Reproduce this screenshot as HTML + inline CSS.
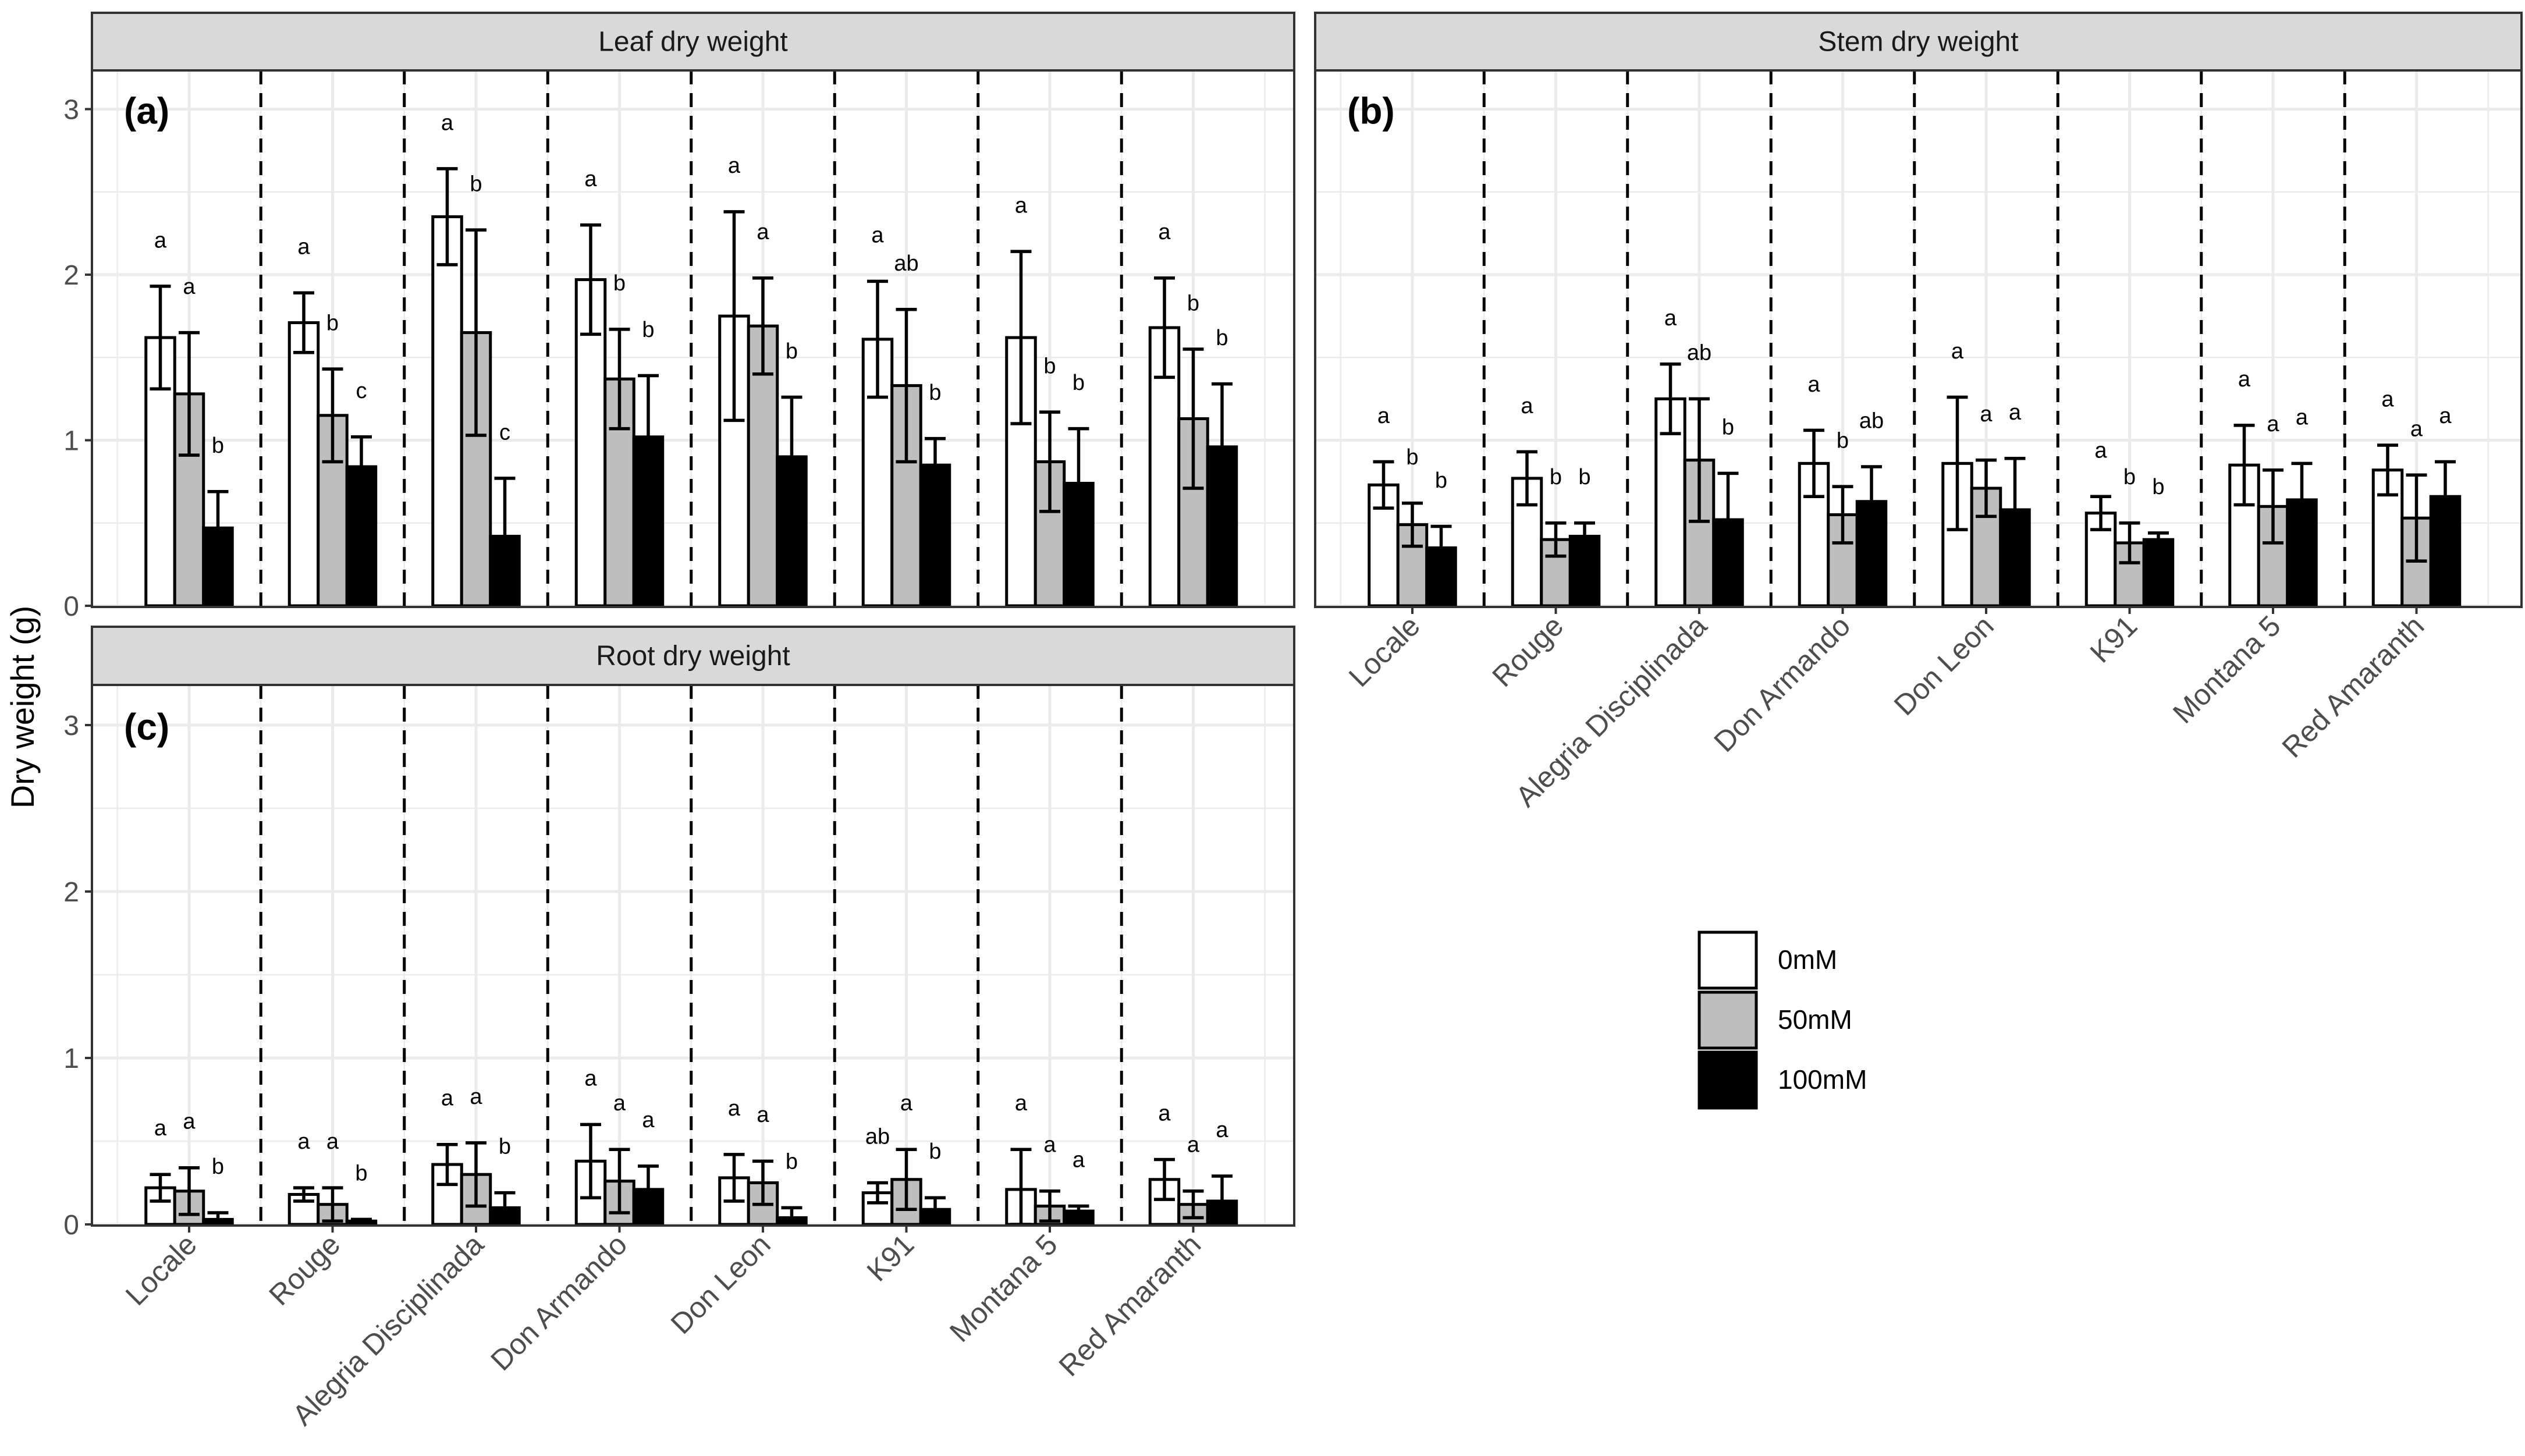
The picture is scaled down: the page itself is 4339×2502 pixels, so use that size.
<!DOCTYPE html>
<html><head><meta charset="utf-8"><style>
html,body{margin:0;padding:0;background:#fff;}
svg{display:block;font-family:"Liberation Sans",Arial,sans-serif;}
</style></head><body>
<svg id="chart" width="4339" height="2502" viewBox="0 0 4339 2502" xmlns="http://www.w3.org/2000/svg">
<text x="0" y="0" transform="translate(58,1215) rotate(-90)" text-anchor="middle" font-size="56" fill="#000">Dry weight (g)</text>
<g>
<rect x="2920" y="1602" width="98" height="96" fill="#fff" stroke="#000" stroke-width="5"/>
<rect x="2920" y="1705" width="98" height="96" fill="#bebebe" stroke="#000" stroke-width="5"/>
<rect x="2920" y="1808" width="98" height="96" fill="#000" stroke="#000" stroke-width="5"/>
<text x="3055" y="1665" font-size="46">0mM</text>
<text x="3055" y="1768" font-size="46">50mM</text>
<text x="3055" y="1871" font-size="46">100mM</text>
</g>
</svg>
<script>
const categories = ["Locale","Rouge","Alegria Disciplinada","Don Armando","Don Leon","K91","Montana 5","Red Amaranth"];
const yTicks = [0,1,2,3];
const leafMean0 = [1.62,1.71,2.35,1.97,1.75,1.61,1.62,1.68];
const leafSe0   = [0.31,0.18,0.29,0.33,0.63,0.35,0.52,0.30];
const leafMean50 = [1.28,1.15,1.65,1.37,1.69,1.33,0.87,1.13];
const leafSe50   = [0.37,0.28,0.62,0.30,0.29,0.46,0.30,0.42];
const leafMean100 = [0.47,0.84,0.42,1.02,0.90,0.85,0.74,0.96];
const leafSe100   = [0.22,0.18,0.35,0.37,0.36,0.16,0.33,0.38];
const leafLetters0 = ["a","a","a","a","a","a","a","a"];
const leafLetters50 = ["a","b","b","b","a","ab","b","b"];
const leafLetters100 = ["b","c","c","b","b","b","b","b"];
const stemMean0 = [0.73,0.77,1.25,0.86,0.86,0.56,0.85,0.82];
const stemSe0   = [0.14,0.16,0.21,0.20,0.40,0.10,0.24,0.15];
const stemMean50 = [0.49,0.40,0.88,0.55,0.71,0.38,0.60,0.53];
const stemSe50   = [0.13,0.10,0.37,0.17,0.17,0.12,0.22,0.26];
const stemMean100 = [0.35,0.42,0.52,0.63,0.58,0.40,0.64,0.66];
const stemSe100   = [0.13,0.08,0.28,0.21,0.31,0.04,0.22,0.21];
const stemLetters0 = ["a","a","a","a","a","a","a","a"];
const stemLetters50 = ["b","b","ab","b","a","b","a","a"];
const stemLetters100 = ["b","b","b","ab","a","b","a","a"];
const rootMean0 = [0.22,0.18,0.36,0.38,0.28,0.19,0.21,0.27];
const rootSe0   = [0.08,0.04,0.12,0.22,0.14,0.06,0.24,0.12];
const rootMean50 = [0.20,0.12,0.30,0.26,0.25,0.27,0.11,0.12];
const rootSe50   = [0.14,0.10,0.19,0.19,0.13,0.18,0.09,0.08];
const rootMean100 = [0.03,0.02,0.10,0.21,0.04,0.09,0.08,0.14];
const rootSe100   = [0.04,0.01,0.09,0.14,0.06,0.07,0.03,0.15];
const rootLetters0 = ["a","a","a","a","a","ab","a","a"];
const rootLetters50 = ["a","a","a","a","a","a","a","a"];
const rootLetters100 = ["b","b","b","a","b","b","a","a"];

const NS = "http://www.w3.org/2000/svg";
const svg = document.getElementById("chart");
function mk(tag, attrs, parent){
  const e = document.createElementNS(NS, tag);
  for (const k in attrs) e.setAttribute(k, attrs[k]);
  (parent||svg).appendChild(e);
  return e;
}
const fills = ["#ffffff","#bebebe","#000000"];
const UNIT = 246.5, BW = 49.5;

function drawPanel(p){
  const g = mk("g", {});
  
  
  const y = v => p.y0 - v * p.unit;
  const x = i => p.left + 167 + UNIT * i;
  const bg = mk("rect", {x:p.left, y:p.top, width:p.right-p.left, height:p.bottom-p.top, fill:"#fff"}, g);
  
  
  for (let v = 0; v <= 3.25; v += 0.5) {
    const gl = mk("line", {x1:p.left, x2:p.right, y1:y(v), y2:y(v), stroke:"#ebebeb", "stroke-width": (v%1===0)?5:2.5}, g);
    
    
  }
  for (let i = -0.5; i < categories.length; i += 0.5) {
    const gl = mk("line", {x1:x(i), x2:x(i), y1:p.top, y2:p.bottom, stroke:"#ebebeb", "stroke-width": (i%1===0)?5:2.5}, g);
    
    
  }
  for (let i = 0; i < categories.length - 1; i++) {
    const dl = mk("line", {x1:x(i+0.5), x2:x(i+0.5), y1:p.top, y2:p.bottom, stroke:"#000", "stroke-width":5, "stroke-dasharray":"24 15"}, g);
    
    
  }
  for (let s = 0; s < 3; s++) {
    const means = p.means[s], ses = p.ses[s], lets = p.letters[s];
    for (let i = 0; i < categories.length; i++) {
      const cx = x(i) + (s - 1) * BW;
      const r = mk("rect", {x:cx - BW/2, y:y(means[i]), width:BW, height:y(0)-y(means[i]), fill:fills[s], stroke:"#000", "stroke-width":5}, g);
      
      
      const lo = Math.max(0, means[i] - ses[i]), hi = means[i] + ses[i];
      const eb = mk("path", {d:`M${cx-18},${y(hi)}H${cx+18}M${cx},${y(hi)}V${y(lo)}M${cx-18},${y(lo)}H${cx+18}`, stroke:"#000", "stroke-width":5.5, fill:"none"}, g);
      
      
      const t = mk("text", {x:cx, y:y(hi + 0.28) + 13, "text-anchor":"middle", "font-size":38, fill:"#000"}, g);
      t.textContent = lets[i];
      
      
    }
  }
  const bd = mk("rect", {x:p.left, y:p.top, width:p.right-p.left, height:p.bottom-p.top, fill:"none", stroke:"#333", "stroke-width":4}, g);
  
  
  const st = mk("rect", {x:p.left, y:p.stripTop, width:p.right-p.left, height:p.top-p.stripTop, fill:"#d9d9d9", stroke:"#333", "stroke-width":4}, g);
  
  
  const stt = mk("text", {x:(p.left+p.right)/2, y:(p.stripTop+p.top)/2 + 16, "text-anchor":"middle", "font-size":48, fill:"#1a1a1a"}, g);
  stt.textContent = p.title;
  
  
  const tag = mk("text", {x:p.left + 55, y:y(3) + 25, "font-size":64, "font-weight":"bold", fill:"#000"}, g);
  tag.textContent = p.tag;
  
  
  if (p.yAxis) {
    for (const v of yTicks) {
      const tk = mk("line", {x1:p.left-12, x2:p.left, y1:y(v), y2:y(v), stroke:"#333", "stroke-width":4}, g);
      
      
      const tl = mk("text", {x:p.left-22, y:y(v)+17, "text-anchor":"end", "font-size":48, fill:"#4d4d4d"}, g);
      tl.textContent = v;
      
      
    }
  }
  if (p.xAxis) {
    for (let i = 0; i < categories.length; i++) {
      const tk = mk("line", {x1:x(i), x2:x(i), y1:p.bottom, y2:p.bottom+12, stroke:"#333", "stroke-width":4}, g);
      
      
      const tl = mk("text", {x:0, y:0, transform:`translate(${x(i)+16},${p.bottom+36}) rotate(-45)`, "text-anchor":"end", "font-size":50, fill:"#4d4d4d"}, g);
      tl.textContent = categories[i];
      
      
    }
  }
}

drawPanel({name:"panel-leaf", key:"leaf", title:"Leaf dry weight", tag:"(a)", left:158, right:2224, stripTop:22, top:121, bottom:1043, y0:1041, unit:284.5,
  means:[leafMean0,leafMean50,leafMean100], ses:[leafSe0,leafSe50,leafSe100], letters:[leafLetters0,leafLetters50,leafLetters100], yAxis:true, xAxis:false});
drawPanel({name:"panel-stem", key:"stem", title:"Stem dry weight", tag:"(b)", left:2260, right:4333, stripTop:22, top:121, bottom:1043, y0:1041, unit:284.5,
  means:[stemMean0,stemMean50,stemMean100], ses:[stemSe0,stemSe50,stemSe100], letters:[stemLetters0,stemLetters50,stemLetters100], yAxis:false, xAxis:true});
drawPanel({name:"panel-root", key:"root", title:"Root dry weight", tag:"(c)", left:158, right:2224, stripTop:1077, top:1177, bottom:2106, y0:2104, unit:286,
  means:[rootMean0,rootMean50,rootMean100], ses:[rootSe0,rootSe50,rootSe100], letters:[rootLetters0,rootLetters50,rootLetters100], yAxis:true, xAxis:true});
</script>
</body></html>
